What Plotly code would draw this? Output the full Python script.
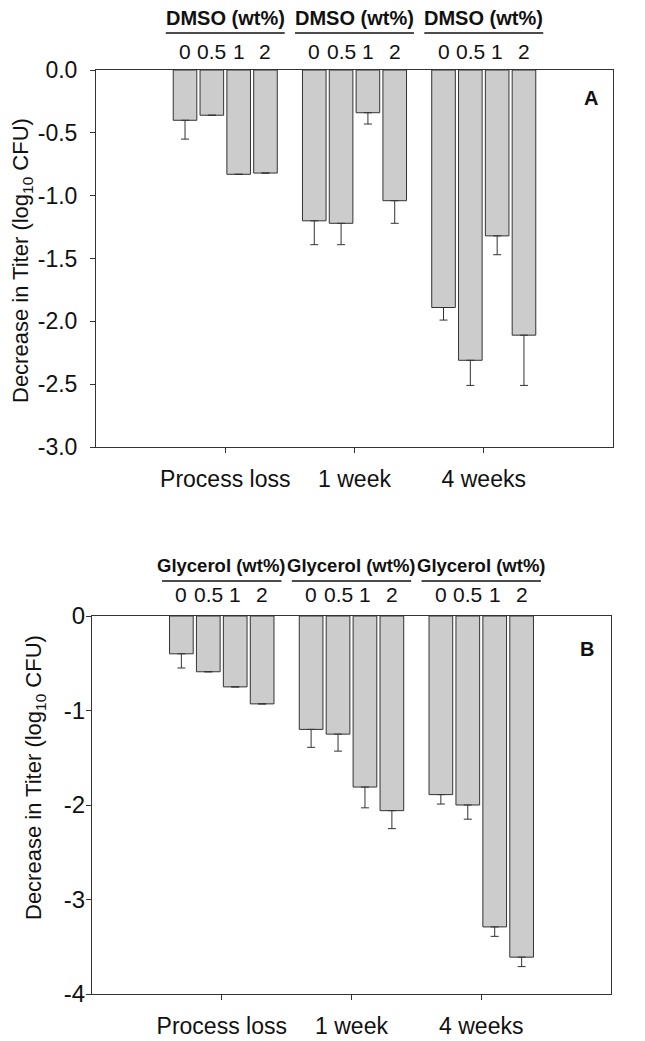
import plotly.graph_objects as go

# ---------------- data ----------------
periods = ["Process loss", "1 week", "4 weeks"]
conc_labels = ["0", "0.5", "1", "2"]

# Panel A: DMSO (wt%)
dmso_0 = [-0.40, -1.20, -1.89]
dmso_05 = [-0.36, -1.22, -2.31]
dmso_1 = [-0.83, -0.34, -1.32]
dmso_2 = [-0.82, -1.04, -2.11]
dmso_0_err = [0.15, 0.19, 0.10]
dmso_05_err = [0.0, 0.17, 0.20]
dmso_1_err = [0.0, 0.09, 0.15]
dmso_2_err = [0.0, 0.18, 0.40]

# Panel B: Glycerol (wt%)
gly_0 = [-0.40, -1.20, -1.89]
gly_05 = [-0.59, -1.25, -2.00]
gly_1 = [-0.75, -1.81, -3.29]
gly_2 = [-0.93, -2.06, -3.61]
gly_0_err = [0.15, 0.19, 0.10]
gly_05_err = [0.0, 0.18, 0.15]
gly_1_err = [0.0, 0.22, 0.10]
gly_2_err = [0.0, 0.19, 0.10]

dmso_ticks = [-3.0, -2.5, -2.0, -1.5, -1.0, -0.5, 0.0]
dmso_ticktext = ["-3.0", "-2.5", "-2.0", "-1.5", "-1.0", "-0.5", "0.0"]
gly_ticks = [-4, -3, -2, -1, 0]
gly_ticktext = ["-4", "-3", "-2", "-1", "0"]

# ---------------- style ----------------
FONT = "Liberation Sans, Arial, sans-serif"
BAR_FILL = "#cccccc"
EDGE = "#333333"
BARGAP = 0.17
BARGROUPGAP = 0.12
PAGE_W, PAGE_H = 645, 1041
OFF = 8  # default body margin of the html page
W, H = PAGE_W - OFF, PAGE_H - OFF

# panel pixel boxes (page pixels)
A_box = dict(l=96, r=613, t=70, b=447)
B_box = dict(l=92, r=611, t=616, b=994)

xpos = list(range(1, len(periods) + 1))

fig = go.Figure()

panels = [
    ("x", "y", [dmso_0, dmso_05, dmso_1, dmso_2],
     [dmso_0_err, dmso_05_err, dmso_1_err, dmso_2_err]),
    ("x2", "y2", [gly_0, gly_05, gly_1, gly_2],
     [gly_0_err, gly_05_err, gly_1_err, gly_2_err]),
]

for xa, ya, series, errs in panels:
    for lab, vals, err in zip(conc_labels, series, errs):
        fig.add_trace(go.Bar(
            x=xpos, y=vals, xaxis=xa, yaxis=ya, name=lab,
            marker=dict(color=BAR_FILL, line=dict(color=EDGE, width=1)),
            error_y=dict(type="data", symmetric=False,
                         array=[0] * len(err), arrayminus=err,
                         color=EDGE, thickness=1, width=4),
            showlegend=False, hoverinfo="skip",
        ))


def dom_x(box):
    return [(box["l"] - OFF) / W, (box["r"] - OFF) / W]


def dom_y(box):
    return [1 - (box["b"] - OFF) / H, 1 - (box["t"] - OFF) / H]


axis_common = dict(showline=True, linecolor=EDGE, linewidth=1, mirror=True,
                   ticks="outside", ticklen=5, tickcolor=EDGE, showgrid=False,
                   zeroline=False)
tf23 = dict(family=FONT, size=23, color="#111")
tf24 = dict(family=FONT, size=24, color="#111")

fig.update_layout(
    width=W, height=H,
    margin=dict(l=0, r=0, t=0, b=0, autoexpand=False),
    paper_bgcolor="white", plot_bgcolor="white",
    barmode="group", bargap=BARGAP, bargroupgap=BARGROUPGAP,
    font=dict(family=FONT, color="#111"),
    xaxis=dict(domain=dom_x(A_box), anchor="y", range=[0, 4], tickfont=tf23,
               tickvals=xpos, ticktext=periods, ticklabelstandoff=6, **axis_common),
    yaxis=dict(domain=dom_y(A_box), anchor="x", range=[-3, 0], tickfont=tf23,
               tickvals=dmso_ticks, ticktext=dmso_ticktext, ticklabelstandoff=8,
               **axis_common),
    xaxis2=dict(domain=dom_x(B_box), anchor="y2", range=[0, 4], tickfont=tf23,
                tickvals=xpos, ticktext=periods, ticklabelstandoff=6, **axis_common),
    yaxis2=dict(domain=dom_y(B_box), anchor="x2", range=[-4, 0], tickfont=tf24,
                tickvals=gly_ticks, ticktext=gly_ticktext, ticklabelstandoff=-4,
                **axis_common),
)

slot = (1 - BARGAP) / len(conc_labels)


def header(xref, yref, box, title, tsize, title_px, line_px, num_px):
    hpx = box["b"] - box["t"]
    for xc in xpos:
        fig.add_annotation(x=xc, y=1 + title_px / hpx, xref=xref, yref=yref + " domain",
                           text="<b>" + title + "</b>", showarrow=False,
                           font=dict(family=FONT, size=tsize, color="#111"),
                           xanchor="center", yanchor="middle")
        fig.add_shape(type="line", xref=xref, yref=yref + " domain",
                      x0=xc - 0.46, x1=xc + 0.46,
                      y0=1 + line_px / hpx, y1=1 + line_px / hpx,
                      line=dict(color="#111", width=1.5))
        for j, lab in enumerate(conc_labels):
            fig.add_annotation(x=xc + (j - 1.5) * slot, y=1 + num_px / hpx,
                               xref=xref, yref=yref + " domain", text=lab,
                               showarrow=False,
                               font=dict(family=FONT, size=21, color="#111"),
                               xanchor="center", yanchor="middle")


header("x", "y", A_box, "DMSO (wt%)", 20, 52, 37, 18)
header("x2", "y2", B_box, "Glycerol (wt%)", 18.5, 51, 35, 22)

# panel letters
fig.add_annotation(x=0.975, y=0.96, xref="x domain", yref="y domain", text="<b>A</b>",
                   showarrow=False, font=dict(family=FONT, size=20, color="#111"))
fig.add_annotation(x=0.972, y=0.947, xref="x2 domain", yref="y2 domain", text="<b>B</b>",
                   showarrow=False, font=dict(family=FONT, size=20, color="#111"))

# y-axis titles (page pixel centres)
ytitle = "Decrease in Titer (log<sub>10</sub> CFU)"
for xref, yref, box, cx, cy in [("x", "y", A_box, 22, 261), ("x2", "y2", B_box, 35, 778)]:
    fig.add_annotation(x=(cx - box["l"]) / (box["r"] - box["l"]),
                       y=(box["b"] - cy) / (box["b"] - box["t"]),
                       xref=xref + " domain", yref=yref + " domain", text=ytitle,
                       textangle=-90, showarrow=False,
                       font=dict(family=FONT, size=22, color="#111"),
                       xanchor="center", yanchor="middle")

fig.write_html("out.html")
